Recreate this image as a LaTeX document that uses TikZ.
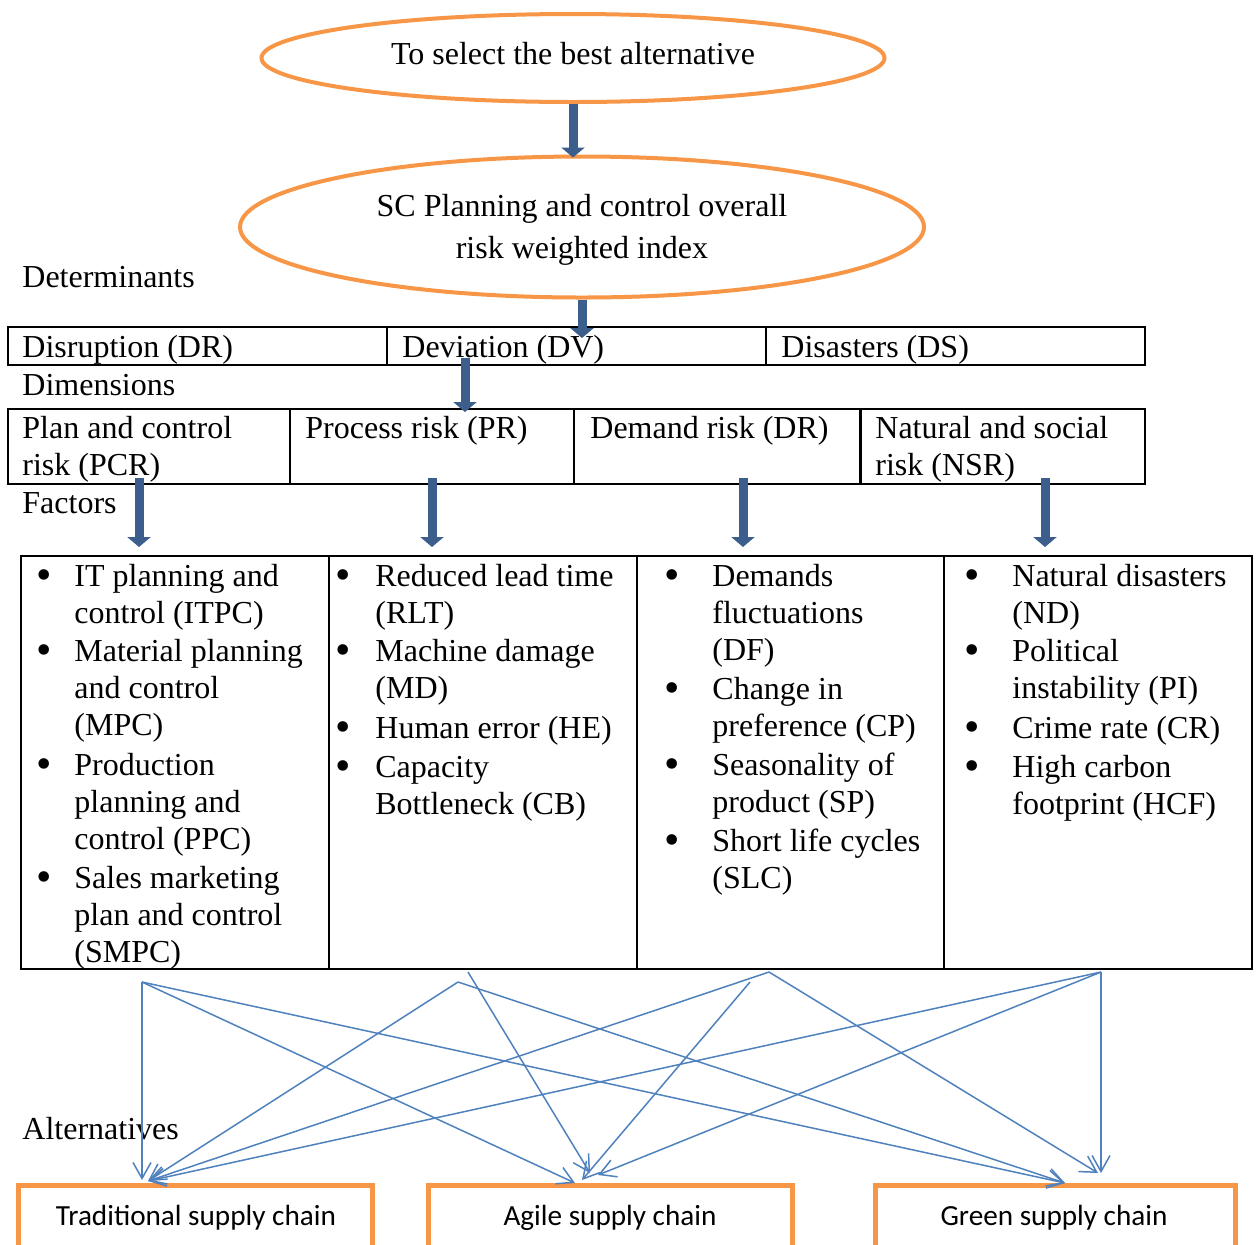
\documentclass[tikz,border=0pt]{standalone}
\usepackage{fontspec}
\setmainfont{Liberation Serif}
\newfontfamily\calibri{Carlito}
\usetikzlibrary{shapes.geometric,arrows.meta,fit}
\definecolor{orng}{RGB}{247,150,70}
\definecolor{darkblue}{RGB}{60,94,140}
\definecolor{lineblue}{RGB}{79,129,189}
\begin{document}
\begin{tikzpicture}[x=0.5pt,y=-0.5pt,
  txt/.style={font=\fontsize{16}{18.5}\selectfont, inner sep=0, anchor=base west, align=left},
  ctxt/.style={font=\fontsize{16}{21}\selectfont, inner sep=0, anchor=base, align=center},
  ell/.style={ellipse, draw=orng, line width=2pt, inner sep=0},
  cell/.style={draw=black, line width=0.75pt, inner sep=0, rectangle},
  bigarrow/.style={draw=darkblue, line width=4.5pt, -{Triangle[length=5pt,width=11.5pt]}},
  thinarrow/.style={draw=lineblue, line width=0.75pt, -{Straight Barb[length=8pt,width=9pt]}},
  altbox/.style={draw=orng, line width=2.5pt, inner sep=0, rectangle},
  alttext/.style={font=\calibri\fontsize{14.6}{17}\selectfont, inner sep=0, anchor=base},
  bul/.style={font=\fontsize{22}{22}\selectfont, inner sep=0, anchor=base, yshift=-1.5pt}
]
\useasboundingbox (0,0) rectangle (1257,1244);
\clip (0,0) rectangle (1257,1244);

% ellipses (multi-line nodes are placed by the baseline of their last line)
\node[ell, minimum width=311.5pt, minimum height=44pt] (e1) at (573,58) {};
\node[ctxt] (e1t) at (573,64) {To select the best alternative};
\node[ell, minimum width=342pt, minimum height=70.5pt] (e2) at (582,227) {};
\node[ctxt] (e2t) at (582,258) {SC Planning and control overall\\risk weighted index};

% section labels
\node[txt] (ldet) at (22,287) {Determinants};
\node[txt] (ldim) at (22,395) {Dimensions};
\node[txt] (lfac) at (22,513) {Factors};
\node[txt] (lalt) at (22,1139) {Alternatives};

% determinants row
\node[cell, fit={(8,327) (387,365)}] (dr) {};
\node[cell, fit={(387,327) (766,365)}] (dv) {};
\node[cell, fit={(766,327) (1145,365)}] (ds) {};
\node[txt] (drt) at (22,357) {Disruption (DR)};
\node[txt] (dvt) at (402,357) {Deviation (DV)};
\node[txt] (dst) at (781,357) {Disasters (DS)};

% dimensions row
\node[cell, fit={(8,409) (290,484)}] (pcr) {};
\node[cell, fit={(290,409) (574,484)}] (pr) {};
\node[cell, fit={(574,409) (860,484)}] (dmr) {};
\node[cell, fit={(861,409) (1145,484)}] (nsr) {};
\node[txt] (pcrt) at (22,475) {Plan and control\\risk (PCR)};
\node[txt] (prt) at (305,438) {Process risk (PR)};
\node[txt] (dmrt) at (590,438) {Demand risk (DR)};
\node[txt] (nsrt) at (875,475) {Natural and social\\risk (NSR)};

% factors table
\node[cell, fit={(21,556) (329,969)}] (f1) {};
\node[cell, fit={(329,556) (637,969)}] (f2) {};
\node[cell, fit={(637,556) (944,969)}] (f3) {};
\node[cell, fit={(944,556) (1252,969)}] (f4) {};

% column 1
\node[bul] (b1a) at (44,586) {\textbullet};
\node[txt] (f1a) at (74,623) {IT planning and\\control (ITPC)};
\node[bul] (b1b) at (44,661) {\textbullet};
\node[txt] (f1b) at (74,735) {Material planning\\and control\\(MPC)};
\node[bul] (b1c) at (44,775) {\textbullet};
\node[txt] (f1c) at (74,849) {Production\\planning and\\control (PPC)};
\node[bul] (b1d) at (44,888) {\textbullet};
\node[txt] (f1d) at (74,962) {Sales marketing\\plan and control\\(SMPC)};
% column 2
\node[bul] (b2a) at (343,586) {\textbullet};
\node[txt] (f2a) at (375,623) {Reduced lead time\\(RLT)};
\node[bul] (b2b) at (343,661) {\textbullet};
\node[txt] (f2b) at (375,698) {Machine damage\\(MD)};
\node[bul] (b2c) at (343,738) {\textbullet};
\node[txt] (f2c) at (375,738) {Human error (HE)};
\node[bul] (b2d) at (343,777) {\textbullet};
\node[txt] (f2d) at (375,814) {Capacity\\Bottleneck (CB)};
% column 3
\node[bul] (b3a) at (672,586) {\textbullet};
\node[txt] (f3a) at (712,660) {Demands\\fluctuations\\(DF)};
\node[bul] (b3b) at (672,699) {\textbullet};
\node[txt] (f3b) at (712,736) {Change in\\preference (CP)};
\node[bul] (b3c) at (672,775) {\textbullet};
\node[txt] (f3c) at (712,812) {Seasonality of\\product (SP)};
\node[bul] (b3d) at (672,851) {\textbullet};
\node[txt] (f3d) at (712,888) {Short life cycles\\(SLC)};
% column 4
\node[bul] (b4a) at (972,586) {\textbullet};
\node[txt] (f4a) at (1012,623) {Natural disasters\\(ND)};
\node[bul] (b4b) at (972,661) {\textbullet};
\node[txt] (f4b) at (1012,698) {Political\\instability (PI)};
\node[bul] (b4c) at (972,738) {\textbullet};
\node[txt] (f4c) at (1012,738) {Crime rate (CR)};
\node[bul] (b4d) at (972,777) {\textbullet};
\node[txt] (f4d) at (1012,814) {High carbon\\footprint (HCF)};

% alternatives
\node[altbox, fit={(18,1185) (372,1280)}] (trad) {};
\node[altbox, fit={(428,1185) (792,1280)}] (agile) {};
\node[altbox, fit={(875,1185) (1235,1280)}] (green) {};
\node[alttext] (tradt) at (196,1225) {Traditional supply chain};
\node[alttext] (agilet) at (610,1225) {Agile supply chain};
\node[alttext] (greent) at (1054,1225) {Green supply chain};

% thick arrows
\coordinate (a2e) at (582,338);
\coordinate (a3s) at (465,358);
\coordinate (a3e) at (465,412);
\coordinate (p1s) at (139,478);
\coordinate (p1e) at (139,547);
\coordinate (p2s) at (432,478);
\coordinate (p2e) at (432,547);
\coordinate (p3s) at (743,478);
\coordinate (p3e) at (743,547);
\coordinate (p4s) at (1045,478);
\coordinate (p4e) at (1045,547);
\draw[bigarrow, shorten >=-1.5pt] (e1.south) -- (e1.south |- e2.north);
\draw[bigarrow] (e2.south) -- (a2e);
\draw[bigarrow] (a3s) -- (a3e);
\draw[bigarrow] (p1s) -- (p1e);
\draw[bigarrow] (p2s) -- (p2e);
\draw[bigarrow] (p3s) -- (p3e);
\draw[bigarrow] (p4s) -- (p4e);

% thin connectors
\coordinate (s1) at (142,982);
\coordinate (s2a) at (458,982);
\coordinate (s2b) at (468,972);
\coordinate (s3a) at (769,972);
\coordinate (s3b) at (750,982);
\coordinate (s4) at (1101,972);
\coordinate (tT1) at (142,1180);
\coordinate (tT2) at (148,1181);
\coordinate (tA1) at (575,1183);
\coordinate (tA2) at (590,1173);
\coordinate (tA3) at (582,1180);
\coordinate (tA4) at (598,1175);
\coordinate (tG1) at (1065,1183);
\coordinate (tG3) at (1098,1173);
\coordinate (tG4) at (1101,1173);
\draw[thinarrow] (s1) -- (tT1);
\draw[thinarrow] (s1) -- (tA1);
\draw[thinarrow] (s1) -- (tG1);
\draw[thinarrow] (s2a) -- (tT2);
\draw[thinarrow] (s2a) -- (tG1);
\draw[thinarrow] (s2b) -- (tA2);
\draw[thinarrow] (s3a) -- (tT2);
\draw[thinarrow] (s3a) -- (tG3);
\draw[thinarrow] (s3b) -- (tA3);
\draw[thinarrow] (s4) -- (tT2);
\draw[thinarrow] (s4) -- (tA4);
\draw[thinarrow] (s4) -- (tG4);
\end{tikzpicture}
\end{document}
